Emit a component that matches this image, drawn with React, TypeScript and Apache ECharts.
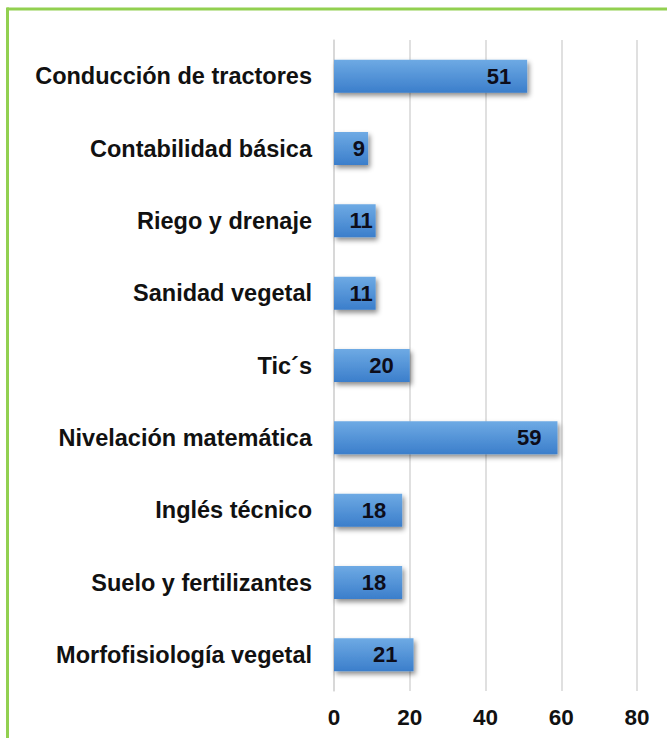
import React, { useEffect, useRef } from "react";
import * as echarts from "echarts";

const categories = [
  "Conducción de tractores",
  "Contabilidad básica",
  "Riego y drenaje",
  "Sanidad vegetal",
  "Tic´s",
  "Nivelación matemática",
  "Inglés técnico",
  "Suelo y fertilizantes",
  "Morfofisiología vegetal",
];
const values = [51, 9, 11, 11, 20, 59, 18, 18, 21];
const xTicks = { min: 0, max: 80, interval: 20 };

const FONT = "'Liberation Sans', Arial, sans-serif";

export default function App() {
  const ref = useRef<HTMLDivElement>(null);
  useEffect(() => {
    document.body.style.margin = "0";
    document.body.style.overflow = "hidden";
    const chart = echarts.init(ref.current!, undefined, { renderer: "svg" });
    chart.setOption({
      animation: false,
      backgroundColor: "#ffffff",
      grid: { left: 334, right: 30, top: 40, bottom: 47, containLabel: false },
      xAxis: {
        type: "value",
        min: xTicks.min,
        max: xTicks.max,
        interval: xTicks.interval,
        axisLine: { show: false },
        axisTick: { show: false },
        splitLine: { show: true, lineStyle: { color: "#d6d6d6", width: 1.5 } },
        axisLabel: {
          color: "#111",
          fontFamily: FONT,
          fontWeight: "bold",
          fontSize: 22.5,
          margin: 15,
        },
      },
      yAxis: {
        type: "category",
        inverse: true,
        data: categories,
        axisLine: { show: true, lineStyle: { color: "#d6d6d6", width: 1.5 } },
        axisTick: { show: false },
        axisLabel: {
          color: "#111",
          fontFamily: FONT,
          fontWeight: "bold",
          fontSize: 23.5,
          margin: 22,
        },
      },
      series: [
        {
          type: "bar",
          barWidth: 33,
          data: values.map((v) => ({
            value: v,
            label: { distance: v < 15 ? 3 : 16 },
          })),
          itemStyle: {
            color: new echarts.graphic.LinearGradient(0, 0, 0, 1, [
              { offset: 0, color: "#6eaae4" },
              { offset: 1, color: "#3b7ecb" },
            ]),
            shadowColor: "rgba(0,0,0,0.45)",
            shadowBlur: 5,
            shadowOffsetX: 2,
            shadowOffsetY: 3,
          },
          label: {
            show: true,
            position: "insideRight",
            color: "#0d0d1a",
            fontFamily: FONT,
            fontWeight: "bold",
            fontSize: 22,
          },
        },
      ],
      graphic: [
        {
          type: "line",
          shape: { x1: 7, y1: 9, x2: 667, y2: 9 },
          style: { stroke: "#92d050", lineWidth: 3 },
        },
        {
          type: "line",
          shape: { x1: 7.5, y1: 7.5, x2: 7.5, y2: 738 },
          style: { stroke: "#92d050", lineWidth: 3 },
        },
      ],
    });
    return () => chart.dispose();
  }, []);
  return <div ref={ref} style={{ width: 667, height: 738 }} />;
}
